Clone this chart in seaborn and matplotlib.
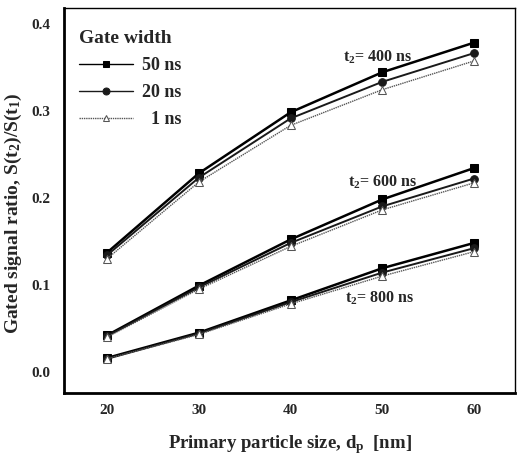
import matplotlib
matplotlib.use("Agg")
import matplotlib.pyplot as plt
import seaborn as sns
import pandas as pd

sizes = [20, 30, 40, 50, 60]
gate_widths = ["50 ns", "20 ns", "1 ns"]
delays = ["400 ns", "600 ns", "800 ns"]

t400_50 = [0.137, 0.228, 0.298, 0.344, 0.378]
t400_20 = [0.134, 0.223, 0.291, 0.333, 0.366]
t400_1 = [0.130, 0.218, 0.283, 0.324, 0.357]

t600_50 = [0.042, 0.099, 0.152, 0.198, 0.234]
t600_20 = [0.041, 0.097, 0.148, 0.190, 0.222]
t600_1 = [0.040, 0.095, 0.144, 0.186, 0.217]

t800_50 = [0.016, 0.045, 0.082, 0.119, 0.148]
t800_20 = [0.015, 0.044, 0.080, 0.114, 0.142]
t800_1 = [0.015, 0.043, 0.078, 0.110, 0.138]

series = {
    ("400 ns", "50 ns"): t400_50, ("400 ns", "20 ns"): t400_20, ("400 ns", "1 ns"): t400_1,
    ("600 ns", "50 ns"): t600_50, ("600 ns", "20 ns"): t600_20, ("600 ns", "1 ns"): t600_1,
    ("800 ns", "50 ns"): t800_50, ("800 ns", "20 ns"): t800_20, ("800 ns", "1 ns"): t800_1,
}
rows = []
for (d, g), vals in series.items():
    for s, v in zip(sizes, vals):
        rows.append({"size": s, "ratio": v, "gate": g, "delay": d})
df = pd.DataFrame(rows)

sns.set_theme(style="white")
plt.rcParams["font.family"] = ["Liberation Serif", "DejaVu Serif"]
plt.rcParams["mathtext.fontset"] = "custom"
plt.rcParams["mathtext.rm"] = "Liberation Serif:bold"
plt.rcParams["mathtext.it"] = "Liberation Serif:bold"
plt.rcParams["mathtext.bf"] = "Liberation Serif:bold"

fig = plt.figure(figsize=(5.17, 4.61), dpi=100)
ax = fig.add_axes([0.124, 0.148, 0.872, 0.835])

styles = {
    "50 ns": dict(color="black", marker="s", lw=1.8, ms=5.5, mfc="black", ls="-"),
    "20 ns": dict(color="#1a1a1a", marker="o", lw=1.4, ms=5.5, mfc="#1a1a1a", ls="-"),
    "1 ns": dict(color="#555555", marker="^", lw=1.0, ms=5.5, mfc="white", ls=(0, (1, 0.6))),
}
display_label = {"50 ns": "50 ns", "20 ns": "20 ns", "1 ns": "\u20071 ns"}
for d in delays:
    for g in gate_widths:
        sub = df[(df.delay == d) & (df.gate == g)]
        st = styles[g]
        sns.lineplot(data=sub, x="size", y="ratio", ax=ax, color=st["color"],
                     marker=st["marker"], linewidth=st["lw"], markersize=st["ms"],
                     markerfacecolor=st["mfc"], markeredgecolor=st["color"],
                     linestyle=st["ls"], label=display_label[g] if d == "400 ns" else None,
                     legend=False)

ax.set_xlim(15.31, 64.47)
ax.set_ylim(-0.024, 0.418)
ax.set_xticks([20, 30, 40, 50, 60])
ax.set_yticks([0.0, 0.1, 0.2, 0.3, 0.4])
ax.set_yticklabels(["0.0", "0.1", "0.2", "0.3", "0.4"])
ax.tick_params(axis="y", length=0, labelsize=11, pad=10)
ax.tick_params(axis="x", length=0, labelsize=11, pad=8)
for lab in ax.get_xticklabels() + ax.get_yticklabels():
    lab.set_fontweight("bold")

for side in ["left", "bottom"]:
    ax.spines[side].set_linewidth(2.0)
for side in ["top", "right"]:
    ax.spines[side].set_linewidth(1.0)
for sp in ax.spines.values():
    sp.set_color("black")

ax.set_xlabel(r"Primary particle size, d$_\mathregular{p}$  [nm]", fontsize=13.5,
              fontweight="bold", labelpad=12)
ax.set_ylabel(r"Gated signal ratio, S(t$_\mathregular{2}$)/S(t$_\mathregular{1}$)", fontsize=14,
              fontweight="bold")
ax.yaxis.set_label_coords(-0.09, 0.465)

ann_kw = dict(fontsize=11.5, fontweight="bold", ha="left", va="center")
ax.text(45.7, 0.361, r"t$_\mathregular{2}$= 400 ns", **ann_kw)
ax.text(46.3, 0.218, r"t$_\mathregular{2}$= 600 ns", **ann_kw)
ax.text(45.9, 0.085, r"t$_\mathregular{2}$= 800 ns", **ann_kw)

h, l = ax.get_legend_handles_labels()
leg = ax.legend(h[:3], l[:3], title="Gate width", loc="upper left", frameon=False,
                prop={"size": 13, "weight": "bold"}, handlelength=3.0,
                bbox_to_anchor=(0.005, 0.975),
                borderaxespad=0.3, labelspacing=0.55, handletextpad=0.5)
leg.get_title().set_fontsize(14)
leg.get_title().set_fontweight("bold")
leg._legend_box.align = "left"
for ln in leg.get_lines():
    ln.set_linewidth(1.0)
    ln.set_markersize(5)

fig.savefig("out.png", dpi=100)
